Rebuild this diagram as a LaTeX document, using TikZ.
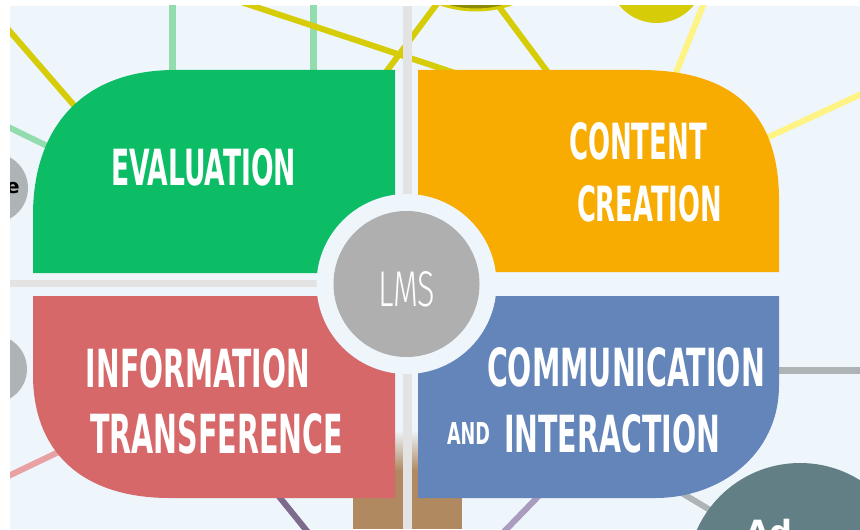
\documentclass[tikz,border=0pt]{standalone}
\usepackage{fontspec}
\usepackage{graphicx}
\newfontfamily\condfont{DejaVu Sans Condensed Bold}
\newfontfamily\thinfont{Fira Sans Light}
\newfontfamily\boldsans{DejaVu Sans Bold}
\definecolor{bg}{HTML}{EEF6FC}
\definecolor{cgreen}{HTML}{0CBD66}
\definecolor{corange}{HTML}{F8AB00}
\definecolor{cred}{HTML}{D6686A}
\definecolor{cblue}{HTML}{6385BA}
\definecolor{lmsgray}{HTML}{AFAFAF}
\definecolor{cbar}{HTML}{E3E3E3}
\definecolor{cyellow}{HTML}{D6CD08}
\definecolor{colive}{HTML}{8D8A06}
\definecolor{lyellow}{HTML}{FFF383}
\definecolor{lgreen}{HTML}{93DCAE}
\definecolor{cpink}{HTML}{E9A2A4}
\definecolor{cbrown}{HTML}{B08961}
\definecolor{cpurple}{HTML}{7E6A8C}
\definecolor{lpurple}{HTML}{AA9CBF}
\definecolor{bubgray}{HTML}{AEB3B5}
\definecolor{cteal}{HTML}{637F86}
\begin{document}
\begin{tikzpicture}[x=0.5pt,y=-0.5pt,
  deco/.style={line width=3pt},
  lbl/.style={inner sep=0pt,outer sep=0pt,text=white}]
\useasboundingbox (0,0) rectangle (860,529);
\fill[white] (0,0) rectangle (860,529);
\begin{scope}
\clip (10,6) rectangle (860,529);
\fill[bg] (10,6) rectangle (860,529);
% decorative network lines
\draw[deco,cyellow] (0,20) -- (150,193);
\draw[deco,lgreen,line width=3.5pt] (172,0) -- (172,100);
\draw[deco,lgreen,line width=3.5pt] (313,0) -- (313,100);
\draw[deco,cyellow] (235,0) -- (470,78);
\draw[deco,cyellow] (380,80) -- (442,-3);
\draw[deco,cyellow] (494,0) -- (555,82);
\draw[deco,lyellow] (706,-2) -- (665,100);
\draw[deco,lyellow] (870,90) -- (760,141);
\draw[deco,lgreen] (0,123) -- (80,162);
\draw[deco,cpink] (0,480) -- (90,437);
\draw[deco,cpurple] (260,473) -- (315,541);
\draw[deco,lpurple] (560,474) -- (495,541);
\draw[deco,bubgray] (660,480) -- (760,540);
\draw[deco,bubgray,line width=3.5pt] (750,370) -- (870,370);
% bubbles
\fill[colive,draw=cyellow,line width=1.5pt] (476,-97) circle (107);
\fill[cyellow] (656.5,-25) circle (48);
\fill[bubgray] (-7,188) circle (35);
\fill[bubgray] (-7,369) circle (34);
\node[anchor=east,inner sep=0pt] (e) at (20,188.5) {\boldsans\fontsize{10}{12}\selectfont e};
\fill[cteal] (800,576) circle (113);
\node[lbl,anchor=north west] (ad) at (745,519) {\boldsans\fontsize{16}{19}\selectfont Ad};
% trunk
\fill[cbrown] (353,470) rectangle (462,529);
\shade[top color=bg,bottom color=cbrown] (353,430) rectangle (462,470.5);
% separators
\draw[cbar,line width=4.5pt] (407,6) -- (407,529);
\draw[cbar,line width=3.5pt] (10,283.5) -- (407,283.5);
% panels
\fill[cgreen] (33,273) -- (33,215) .. controls (33,130) and (80,70) .. (175,70) -- (395,70) -- (395,273) -- cycle;
\fill[corange] (418,70) -- (640,70) .. controls (740,70) and (779,120) .. (779,200) -- (779,272) -- (418,272) -- cycle;
\fill[cred] (33,296) -- (395,296) -- (395,498) -- (170,498) .. controls (80,498) and (33,450) .. (33,375) -- cycle;
\fill[cblue] (418,296) -- (779,296) -- (779,385) .. controls (779,455) and (720,498) .. (655,498) -- (418,498) -- cycle;
% centre
\node[circle,fill=bg,minimum size=90pt,inner sep=0pt] (ring) at (406.5,284) {};
\node[circle,fill=lmsgray,minimum size=73pt,inner sep=0pt] (lms) at (406.5,284) {};
\node[lbl] (lmst) at (406.5,289.5) {\resizebox{28.5pt}{17.5pt}{\thinfont LMS}};
% labels
\node[lbl] (eval) at (203.5,167.5) {\resizebox{92.5pt}{18.5pt}{\condfont EVALUATION}};
\node[lbl] (cont) at (638,141.5) {\resizebox{69pt}{18.5pt}{\condfont CONTENT}};
\node[lbl] (crea) at (649.5,204) {\resizebox{72.5pt}{18pt}{\condfont CREATION}};
\node[lbl] (info) at (198,368.5) {\resizebox{112pt}{19.5pt}{\condfont INFORMATION}};
\node[lbl] (tran) at (216.5,434) {\resizebox{126.5pt}{20pt}{\condfont TRANSFERENCE}};
\node[lbl] (comm) at (626,367.5) {\resizebox{139pt}{19.5pt}{\condfont COMMUNICATION}};
\node[lbl] (and) at (468.5,433) {\resizebox{21.5pt}{11pt}{\condfont AND}};
\node[lbl] (inter) at (612,434) {\resizebox{108pt}{19pt}{\condfont INTERACTION}};
\end{scope}
\end{tikzpicture}
\end{document}
